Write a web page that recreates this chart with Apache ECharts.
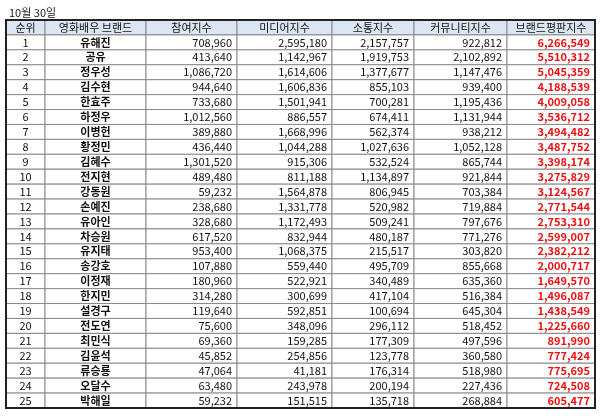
<!DOCTYPE html>
<html><head><meta charset="utf-8">
<script src="https://cdn.jsdelivr.net/npm/echarts@6/dist/echarts.min.js"></script>
<style>html,body{margin:0;padding:0;background:#fff}#c{width:600px;height:420px}</style>
</head><body><div id="c"></div>
<script>
const title = '10월 30일';
const headers = ['순위','영화배우 브랜드','참여지수','미디어지수','소통지수','커뮤니티지수','브랜드평판지수'];
const names = ['유해진','공유','정우성','김수현','한효주','하정우','이병헌','황정민','김혜수','전지현','강동원','손예진','유아인','차승원','유지태','송강호','이정재','한지민','설경구','전도연','최민식','김윤석','류승룡','오달수','박해일'];
const participation = [708960,413640,1086720,944640,733680,1012560,389880,436440,1301520,489480,59232,238680,328680,617520,953400,107880,180960,314280,119640,75600,69360,45852,47064,63480,59232];
const media = [2595180,1142967,1614606,1606836,1501941,886557,1668996,1044288,915306,811188,1564878,1331778,1172493,832944,1068375,559440,522921,300699,592851,348096,159285,254856,41181,243978,151515];
const communication = [2157757,1919753,1377677,855103,700281,674411,562374,1027636,532524,1134897,806945,520982,509241,480187,215517,495709,340489,417104,100694,296112,177309,123778,176314,200194,135718];
const community = [922812,2102892,1147476,939400,1195436,1131944,938212,1052128,865744,921844,703384,719884,797676,771276,303820,855668,635360,516384,645304,518452,497596,360580,518980,227436,268884];
const reputation = [6266549,5510312,5045359,4188539,4009058,3536712,3494482,3487752,3398174,3275829,3124567,2771544,2753310,2599007,2382212,2000717,1649570,1496087,1438549,1225660,891990,777424,775695,724508,605477];

const edges = [0,39,140,231,326,408,501,589];
const fmt = v => v.toLocaleString('en-US');
const rows = [headers];
names.forEach((n,i)=>rows.push([String(i+1), n, fmt(participation[i]), fmt(media[i]), fmt(communication[i]), fmt(community[i]), fmt(reputation[i])]));
const data = [];
rows.forEach((r,ri)=>r.forEach((t,ci)=>data.push([ci, ri, t])));
const FONT = '"Noto Sans CJK KR", sans-serif';

const chart = echarts.init(document.getElementById('c'));
chart.setOption({
  animation:false,
  title:{text:title,left:4,top:2,textStyle:{fontSize:11,fontWeight:'normal',color:'#222',fontFamily:FONT}},
  grid:{left:6,width:589,top:20,height:388},
  xAxis:{type:'value',min:0,max:589,show:false},
  yAxis:{type:'category',data:rows.map((r,i)=>i),inverse:true,show:false},
  series:[{
    type:'custom',
    data:data,
    renderItem:(params,api)=>{
      const c=api.value(0), r=api.value(1);
      const t=rows[r][c];
      const p0=api.coord([edges[c],r]), p1=api.coord([edges[c+1],r]);
      const h=api.size([0,1])[1];
      const x=p0[0], y=p0[1]-h/2, w=p1[0]-p0[0];
      const header=r===0;
      let align='right', tx=x+w-5;
      if(header||c<2){align='center';tx=x+w/2;}
      const color = (!header&&c===6)?'#ee1111':'#111';
      const bold = !header&&(c===1||c===6);
      return {type:'group',children:[
        {type:'rect',shape:{x:x,y:y,width:w,height:h},style:{fill:header?'#dce6f2':'#fff',stroke:'#8a8a8a',lineWidth:1}},
        {type:'text',style:{text:t,x:tx,y:y+h/2,align:align,verticalAlign:'middle',fill:color,font:(bold?'bold ':'')+'11px '+FONT}}
      ]};
    }
  }],
  graphic:[{type:'rect',shape:{x:6,y:20,width:589,height:388},style:{fill:null,stroke:'#222',lineWidth:2},z:100}]
});
</script></body></html>
